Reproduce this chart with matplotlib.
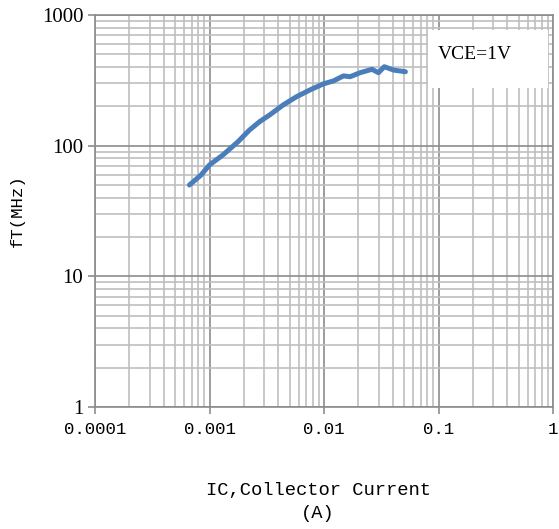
import numpy as np
import matplotlib.pyplot as plt
from matplotlib.patches import Rectangle
from matplotlib.ticker import LogLocator, NullFormatter, FixedLocator

# Dane
ic = [6.68e-4, 8.45e-4, 1.0e-3, 1.31e-3, 1.77e-3, 2.24e-3, 2.75e-3, 3.36e-3,
      4.40e-3, 5.76e-3, 7.54e-3, 9.86e-3, 0.0121, 0.0148, 0.0169, 0.0207,
      0.0262, 0.0299, 0.0336, 0.0405, 0.0514]
ft = [50, 59.7, 71.2, 84.9, 107, 132, 153, 172, 205, 237, 267, 297, 313,
      342, 337, 362, 384, 362, 402, 379, 368]

x_ticks = [0.0001, 0.001, 0.01, 0.1, 1]
x_labels = ['0.0001', '0.001', '0.01', '0.1', '1']
y_ticks = [1, 10, 100, 1000]
y_labels = ['1', '10', '100', '1000']

fig = plt.figure(figsize=(5.59, 5.29), dpi=100)
ax = fig.add_axes([95 / 559, 1 - 407 / 529, 458 / 559, 392 / 529])

ax.plot(ic, ft, color='#4a7ebb', linewidth=3.6, solid_capstyle='round', zorder=3)

ax.set_xscale('log')
ax.set_yscale('log')
ax.set_xlim(1e-4, 1)
ax.set_ylim(1, 1000)

ax.xaxis.set_major_locator(FixedLocator(x_ticks))
ax.yaxis.set_major_locator(FixedLocator(y_ticks))
ax.xaxis.set_minor_locator(LogLocator(base=10, subs=np.arange(2, 10)))
ax.yaxis.set_minor_locator(LogLocator(base=10, subs=np.arange(2, 10)))
ax.xaxis.set_minor_formatter(NullFormatter())
ax.yaxis.set_minor_formatter(NullFormatter())
ax.set_xticklabels(x_labels, fontfamily='Liberation Mono', fontsize=12.5)
ax.set_yticklabels(y_labels, fontfamily='Liberation Serif', fontsize=15)

ax.grid(True, which='major', color='#8c8c8c', linewidth=1.2)
ax.grid(True, which='minor', color='#bfbfbf', linewidth=1.2)
ax.tick_params(which='major', direction='out', length=5, color='#8c8c8c', width=1.2)
ax.tick_params(which='minor', length=0)
ax.tick_params(axis='x', pad=6)
for s in ax.spines.values():
    s.set_color('#8c8c8c')
    s.set_linewidth(1.2)

# ramka z opisem warunku pomiaru
ax.add_patch(Rectangle((0.727, 0.814), 0.262, 0.148, transform=ax.transAxes,
                       facecolor='white', edgecolor='none', zorder=4))
ax.text(0.83, 0.898, 'VCE=1V', transform=ax.transAxes, ha='center', va='center',
        fontfamily='Liberation Serif', fontsize=14, zorder=5)

ax.set_ylabel('fT(MHz)', fontfamily='Liberation Mono', fontsize=12.5, labelpad=12)
fig.text(318 / 559, 1 - 502 / 529, 'IC,Collector Current\n(A)', ha='center', va='center',
         fontfamily='Liberation Mono', fontsize=13.5, linespacing=1.45)

fig.savefig('out.png', dpi=100)
